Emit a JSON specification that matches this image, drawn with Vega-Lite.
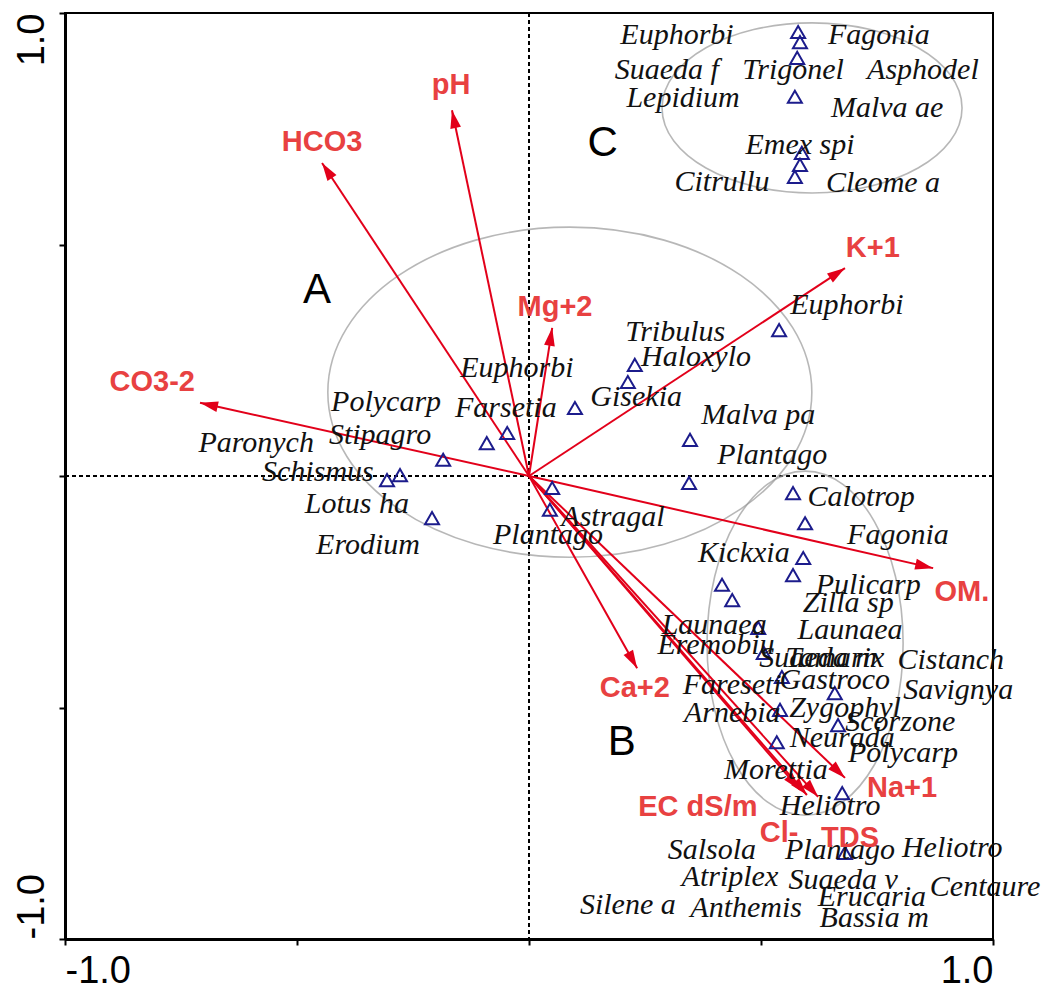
{
  "$schema": "https://vega.github.io/schema/vega-lite/v6.json",
  "autosize": {"type": "none"},
  "padding": {"left": 65, "top": 13, "right": 52, "bottom": 48},
  "width": 928,
  "height": 926,
  "background": "white",
  "config": {
    "view": {"stroke": "black", "strokeWidth": 2},
    "axis": {"grid": false, "title": null}
  },
  "datasets": {
    "pts": [
      {"x": 0.580, "y": 0.959}, {"x": 0.584, "y": 0.937}, {"x": 0.578, "y": 0.903}, {"x": 0.573, "y": 0.819},
      {"x": 0.588, "y": 0.698}, {"x": 0.584, "y": 0.672}, {"x": 0.573, "y": 0.646},
      {"x": 0.539, "y": 0.315}, {"x": 0.228, "y": 0.240}, {"x": 0.213, "y": 0.203}, {"x": 0.099, "y": 0.147},
      {"x": 0.347, "y": 0.078}, {"x": 0.345, "y": -0.015}, {"x": 0.569, "y": -0.037}, {"x": 0.595, "y": -0.102},
      {"x": -0.047, "y": 0.093}, {"x": -0.091, "y": 0.071}, {"x": -0.185, "y": 0.035}, {"x": -0.278, "y": 0.002},
      {"x": -0.306, "y": -0.009}, {"x": -0.209, "y": -0.091}, {"x": 0.050, "y": -0.026}, {"x": 0.045, "y": -0.073},
      {"x": 0.591, "y": -0.177}, {"x": 0.569, "y": -0.214}, {"x": 0.416, "y": -0.235}, {"x": 0.438, "y": -0.268},
      {"x": 0.494, "y": -0.328}, {"x": 0.506, "y": -0.382}, {"x": 0.545, "y": -0.434}, {"x": 0.659, "y": -0.469},
      {"x": 0.541, "y": -0.505}, {"x": 0.666, "y": -0.538}, {"x": 0.534, "y": -0.575}, {"x": 0.675, "y": -0.685},
      {"x": 0.681, "y": -0.814}
    ],
    "labs": [
      {"name": "Euphorbi", "x": 0.319, "y": 0.952}, {"name": "Fagonia", "x": 0.754, "y": 0.952},
      {"name": "Suaeda f", "x": 0.297, "y": 0.877}, {"name": "Trigonel", "x": 0.569, "y": 0.877},
      {"name": "Asphodel", "x": 0.849, "y": 0.877}, {"name": "Lepidium", "x": 0.332, "y": 0.816},
      {"name": "Malva ae", "x": 0.772, "y": 0.795}, {"name": "Emex spi", "x": 0.584, "y": 0.715},
      {"name": "Citrullu", "x": 0.416, "y": 0.635}, {"name": "Cleome a", "x": 0.763, "y": 0.633},
      {"name": "Euphorbi", "x": 0.685, "y": 0.369}, {"name": "Tribulus", "x": 0.315, "y": 0.311},
      {"name": "Haloxylo", "x": 0.360, "y": 0.257}, {"name": "Gisekia", "x": 0.231, "y": 0.171},
      {"name": "Malva pa", "x": 0.494, "y": 0.132}, {"name": "Plantago", "x": 0.524, "y": 0.045},
      {"name": "Calotrop", "x": 0.716, "y": -0.045}, {"name": "Fagonia", "x": 0.795, "y": -0.127},
      {"name": "Euphorbi", "x": -0.026, "y": 0.233}, {"name": "Polycarp", "x": -0.308, "y": 0.160},
      {"name": "Farsetia", "x": -0.050, "y": 0.147}, {"name": "Stipagro", "x": -0.321, "y": 0.089},
      {"name": "Paronych", "x": -0.588, "y": 0.071}, {"name": "Schismus", "x": -0.455, "y": 0.009},
      {"name": "Lotus ha", "x": -0.371, "y": -0.060}, {"name": "Erodium", "x": -0.347, "y": -0.149},
      {"name": "Astragal", "x": 0.181, "y": -0.089}, {"name": "Plantago", "x": 0.041, "y": -0.127},
      {"name": "Kickxia", "x": 0.463, "y": -0.166}, {"name": "Pulicarp", "x": 0.731, "y": -0.235},
      {"name": "Zilla sp", "x": 0.688, "y": -0.274}, {"name": "Launaea", "x": 0.399, "y": -0.322},
      {"name": "Launaea", "x": 0.692, "y": -0.333}, {"name": "Eremobiu", "x": 0.403, "y": -0.365},
      {"name": "Suaeda m", "x": 0.623, "y": -0.393}, {"name": "Tamarix", "x": 0.659, "y": -0.393},
      {"name": "Cistanch", "x": 0.909, "y": -0.397}, {"name": "Gastroco", "x": 0.659, "y": -0.441},
      {"name": "Fareseti", "x": 0.438, "y": -0.451}, {"name": "Savignya", "x": 0.925, "y": -0.462},
      {"name": "Zygophyl", "x": 0.681, "y": -0.501}, {"name": "Arnebia", "x": 0.438, "y": -0.512},
      {"name": "Scorzone", "x": 0.800, "y": -0.531}, {"name": "Neurada", "x": 0.675, "y": -0.566},
      {"name": "Polycarp", "x": 0.806, "y": -0.598}, {"name": "Morettia", "x": 0.532, "y": -0.635},
      {"name": "Heliotro", "x": 0.649, "y": -0.713}, {"name": "Salsola", "x": 0.394, "y": -0.808},
      {"name": "Plantago", "x": 0.670, "y": -0.808}, {"name": "Heliotro", "x": 0.912, "y": -0.803},
      {"name": "Atriplex", "x": 0.433, "y": -0.866}, {"name": "Suaeda v", "x": 0.677, "y": -0.873},
      {"name": "Centaure", "x": 0.983, "y": -0.888}, {"name": "Erucaria", "x": 0.739, "y": -0.909},
      {"name": "Silene a", "x": 0.213, "y": -0.927}, {"name": "Anthemis", "x": 0.468, "y": -0.933},
      {"name": "Bassia m", "x": 0.744, "y": -0.955}
    ],
    "env": [
      {"v": "pH", "x": -0.166, "y": 0.790, "lx": -0.168, "ly": 0.844},
      {"v": "HCO3", "x": -0.446, "y": 0.676, "lx": -0.446, "ly": 0.721},
      {"v": "CO3-2", "x": -0.709, "y": 0.158, "lx": -0.812, "ly": 0.203},
      {"v": "Mg+2", "x": 0.050, "y": 0.320, "lx": 0.056, "ly": 0.365},
      {"v": "K+1", "x": 0.681, "y": 0.449, "lx": 0.741, "ly": 0.492},
      {"v": "OM.", "x": 0.871, "y": -0.199, "lx": 0.933, "ly": -0.251},
      {"v": "Ca+2", "x": 0.233, "y": -0.415, "lx": 0.228, "ly": -0.458},
      {"v": "Na+1", "x": 0.681, "y": -0.652, "lx": 0.804, "ly": -0.674},
      {"v": "EC dS/m", "x": 0.599, "y": -0.689, "lx": 0.364, "ly": -0.715},
      {"v": "Cl-", "x": 0.584, "y": -0.678, "lx": 0.539, "ly": -0.771},
      {"v": "TDS", "x": 0.623, "y": -0.693, "lx": 0.692, "ly": -0.782}
    ],
    "groups": [
      {"g": "A", "cx": 0.088, "cy": 0.181, "lx": -0.457, "ly": 0.402},
      {"g": "B", "cx": 0.595, "cy": -0.361, "lx": 0.200, "ly": -0.575},
      {"g": "C", "cx": 0.610, "cy": 0.795, "lx": 0.159, "ly": 0.719}
    ]
  },
  "layer": [
    {
      "data": {"name": "pts"},
      "mark": {"type": "rule", "stroke": "black", "strokeWidth": 1, "strokeDash": [4, 3]},
      "encoding": {
        "x": {"datum": 0, "type": "quantitative",
          "scale": {"domain": [-1, 1], "nice": false, "zero": false},
          "axis": {"values": [-1, -0.5, 0, 0.5, 1],
            "labelExpr": "datum.value == 1 ? '1.0' : datum.value == -1 ? '-1.0' : ''",
            "labelFlush": true, "labelOverlap": false, "labelFontSize": 38, "labelFont": "Liberation Sans",
            "labelColor": "black", "labelPadding": 7, "labelBaseline": "top",
            "tickSize": 6, "tickWidth": 2, "tickColor": "black", "domainColor": "black", "domainWidth": 3,
            "grid": false, "title": null}}
      }
    },
    {
      "data": {"name": "pts"},
      "mark": {"type": "rule", "stroke": "black", "strokeWidth": 1, "strokeDash": [4, 3]},
      "encoding": {
        "y": {"datum": 0, "type": "quantitative",
          "scale": {"domain": [-1, 1], "nice": false, "zero": false},
          "axis": {"values": [-1, -0.5, 0, 0.5, 1],
            "labelExpr": "datum.value == 1 ? '1.0' : datum.value == -1 ? '-1.0' : ''",
            "labelOverlap": false, "labelFontSize": 38, "labelFont": "Liberation Sans",
            "labelColor": "black", "labelPadding": 16, "labelAngle": -90,
            "labelAlign": {"condition": {"test": "datum.value > 0", "value": "right"}, "value": "left"},
            "labelBaseline": "alphabetic",
            "tickSize": 6, "tickWidth": 2, "tickColor": "black", "domainColor": "black", "domainWidth": 3,
            "grid": false, "title": null}}
      }
    },
    {
      "data": {"name": "groups"},
      "transform": [{"filter": "datum.g == 'A'"}],
      "mark": {"type": "point", "filled": false, "stroke": "#9a9a9a", "strokeWidth": 1.6, "size": 234256,
        "shape": "M 1 0 C 1 0.377 0.552 0.682 0 0.682 C -0.552 0.682 -1 0.377 -1 0 C -1 -0.377 -0.552 -0.682 0 -0.682 C 0.552 -0.682 1 -0.377 1 0 Z"},
      "encoding": {
        "x": {"field": "cx", "type": "quantitative", "scale": {"domain": [-1, 1], "nice": false, "zero": false}},
        "y": {"field": "cy", "type": "quantitative", "scale": {"domain": [-1, 1], "nice": false, "zero": false}}
      }
    },
    {
      "data": {"name": "groups"},
      "transform": [{"filter": "datum.g == 'C'"}],
      "mark": {"type": "point", "filled": false, "stroke": "#9a9a9a", "strokeWidth": 1.6, "size": 90000,
        "shape": "M 1 0 C 1 0.313 0.552 0.567 0 0.567 C -0.552 0.567 -1 0.313 -1 0 C -1 -0.313 -0.552 -0.567 0 -0.567 C 0.552 -0.567 1 -0.313 1 0 Z"},
      "encoding": {
        "x": {"field": "cx", "type": "quantitative", "scale": {"domain": [-1, 1], "nice": false, "zero": false}},
        "y": {"field": "cy", "type": "quantitative", "scale": {"domain": [-1, 1], "nice": false, "zero": false}}
      }
    },
    {
      "data": {"name": "groups"},
      "transform": [{"filter": "datum.g == 'B'"}],
      "mark": {"type": "point", "filled": false, "stroke": "#9a9a9a", "strokeWidth": 1.6, "size": 118336,
        "shape": "M 0.57 0 C 0.57 0.552 0.315 1 0 1 C -0.315 1 -0.57 0.552 -0.57 0 C -0.57 -0.552 -0.315 -1 0 -1 C 0.315 -1 0.57 -0.552 0.57 0 Z"},
      "encoding": {
        "x": {"field": "cx", "type": "quantitative", "scale": {"domain": [-1, 1], "nice": false, "zero": false}},
        "y": {"field": "cy", "type": "quantitative", "scale": {"domain": [-1, 1], "nice": false, "zero": false}}
      }
    },
    {
      "data": {"name": "env"},
      "mark": {"type": "rule", "stroke": "#e2001a", "strokeWidth": 2},
      "encoding": {
        "x": {"field": "x", "type": "quantitative", "scale": {"domain": [-1, 1], "nice": false, "zero": false}},
        "y": {"field": "y", "type": "quantitative", "scale": {"domain": [-1, 1], "nice": false, "zero": false}},
        "x2": {"datum": 0},
        "y2": {"datum": 0}
      }
    },
    {
      "data": {"name": "env"},
      "transform": [{"calculate": "atan2(datum.x, datum.y) * 180 / PI", "as": "ang"}],
      "mark": {"type": "point", "filled": true, "fill": "#e2001a", "strokeWidth": 0, "opacity": 1, "size": 1296,
        "shape": "M 0 0 L -0.3 1 L 0.3 1 Z"},
      "encoding": {
        "x": {"field": "x", "type": "quantitative", "scale": {"domain": [-1, 1], "nice": false, "zero": false}},
        "y": {"field": "y", "type": "quantitative", "scale": {"domain": [-1, 1], "nice": false, "zero": false}},
        "angle": {"field": "ang", "type": "quantitative", "scale": null}
      }
    },
    {
      "data": {"name": "pts"},
      "mark": {"type": "point", "shape": "triangle-up", "filled": false, "stroke": "#1c1c8c", "strokeWidth": 2, "size": 196, "opacity": 1},
      "encoding": {
        "x": {"field": "x", "type": "quantitative", "scale": {"domain": [-1, 1], "nice": false, "zero": false}},
        "y": {"field": "y", "type": "quantitative", "scale": {"domain": [-1, 1], "nice": false, "zero": false}}
      }
    },
    {
      "data": {"name": "labs"},
      "mark": {"type": "text", "font": "Liberation Serif", "fontStyle": "italic", "fontSize": 30, "color": "#111111", "align": "center", "baseline": "middle"},
      "encoding": {
        "x": {"field": "x", "type": "quantitative", "scale": {"domain": [-1, 1], "nice": false, "zero": false}},
        "y": {"field": "y", "type": "quantitative", "scale": {"domain": [-1, 1], "nice": false, "zero": false}},
        "text": {"field": "name"}
      }
    },
    {
      "data": {"name": "env"},
      "mark": {"type": "text", "font": "Liberation Sans", "fontWeight": "bold", "fontSize": 29, "color": "#e84141", "align": "center", "baseline": "middle"},
      "encoding": {
        "x": {"field": "lx", "type": "quantitative", "scale": {"domain": [-1, 1], "nice": false, "zero": false}},
        "y": {"field": "ly", "type": "quantitative", "scale": {"domain": [-1, 1], "nice": false, "zero": false}},
        "text": {"field": "v"}
      }
    },
    {
      "data": {"name": "groups"},
      "mark": {"type": "text", "font": "Liberation Sans", "fontSize": 42, "color": "black", "align": "center", "baseline": "middle"},
      "encoding": {
        "x": {"field": "lx", "type": "quantitative", "scale": {"domain": [-1, 1], "nice": false, "zero": false}},
        "y": {"field": "ly", "type": "quantitative", "scale": {"domain": [-1, 1], "nice": false, "zero": false}},
        "text": {"field": "g"}
      }
    }
  ]
}
